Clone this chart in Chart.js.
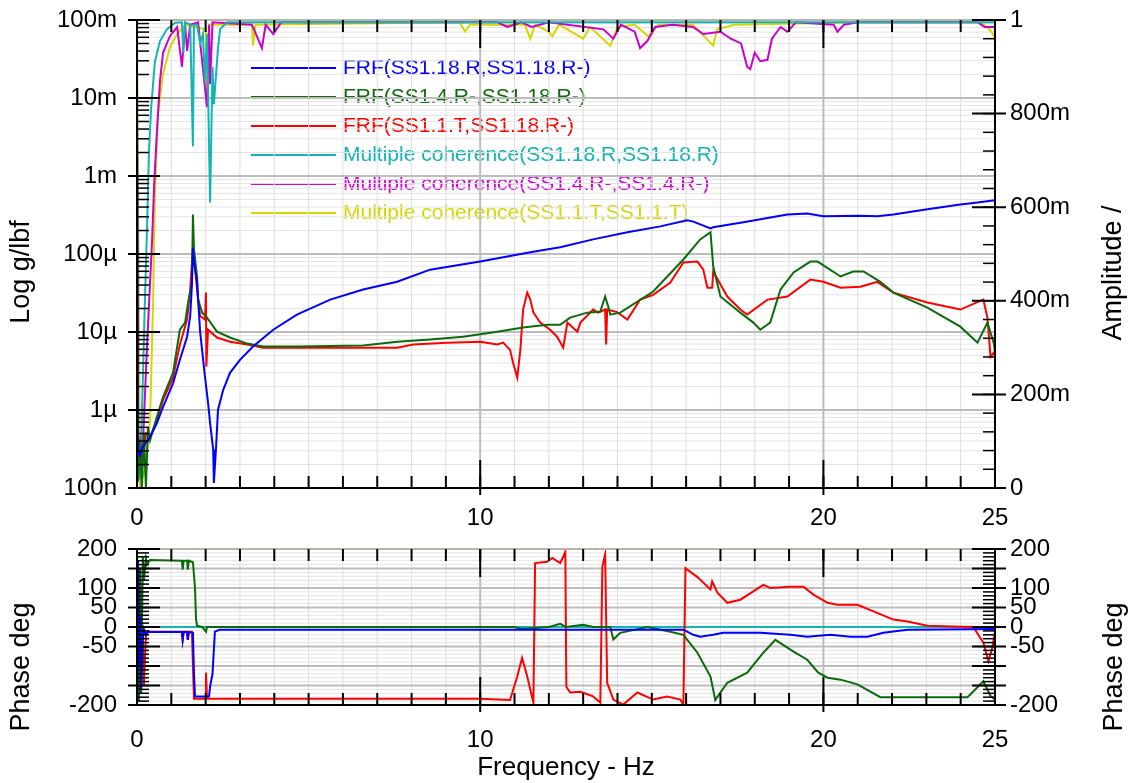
<!DOCTYPE html>
<html>
<head>
<meta charset="utf-8">
<title>FRF / coherence</title>
<script src="https://cdn.jsdelivr.net/npm/chart.js@4.4.1/dist/chart.umd.min.js"></script>
<style>
  html, body { margin: 0; padding: 0; background: #fff; }
  #wrap { position: relative; width: 1133px; height: 783px; }
  #wrap canvas { position: absolute; left: 0; top: 0; }
</style>
</head>
<body>
<div id="wrap">
  <canvas id="magChart" width="1133" height="783"></canvas>
  <canvas id="phaseChart" width="1133" height="783"></canvas>
</div>
<script>
// ---- axes / labels ----
const freqTicks = [0, 10, 20, 25];
const magTicks = [1e-7, 1e-6, 1e-5, 1e-4, 1e-3, 1e-2, 1e-1];
const magTickLabels = ['100n', '1µ', '10µ', '100µ', '1m', '10m', '100m'];
const cohTicks = [0, 0.2, 0.4, 0.6, 0.8, 1];
const cohTickLabels = ['0', '200m', '400m', '600m', '800m', '1'];
const phaseTicks = [-200, -50, 0, 50, 100, 200];

const seriesNames = [
  'FRF(SS1.18.R,SS1.18.R-)',
  'FRF(SS1.4.R-,SS1.18.R-)',
  'FRF(SS1.1.T,SS1.18.R-)',
  'Multiple coherence(SS1.18.R,SS1.18.R)',
  'Multiple coherence(SS1.4.R-,SS1.4.R-)',
  'Multiple coherence(SS1.1.T,SS1.1.T)'
];
const seriesColors = ['#0000ff', '#0b6b0b', '#ff0000', '#12b4b4', '#cc00cc', '#d6d600'];

// ---- FRF magnitude, [Hz, g/lbf] ----
const frfBlueMag = [
  [0, 5.0e-3], [0.03, 3.1e-7], [0.09, 2.6e-7], [0.17, 3.4e-7], [0.38, 4.5e-7], [0.58, 6.8e-7],
  [0.76, 1.1e-6], [1.05, 2.2e-6], [1.25, 4.4e-6], [1.46, 8.7e-6], [1.55, 1.6e-5], [1.60, 4.0e-5],
  [1.63, 1.2e-4], [1.66, 8.0e-5], [1.75, 4.3e-5], [1.84, 1.0e-5], [1.98, 2.7e-6], [2.07, 1.24e-6],
  [2.13, 6.8e-7], [2.22, 3.1e-7], [2.24, 1.16e-7], [2.30, 3.1e-7], [2.36, 1.0e-6], [2.51, 1.8e-6],
  [2.71, 3.0e-6], [3.00, 4.4e-6], [3.38, 6.5e-6], [3.97, 1.07e-5], [4.66, 1.67e-5], [5.63, 2.6e-5],
  [6.59, 3.5e-5], [7.58, 4.4e-5], [8.54, 6.3e-5], [10.0, 8.0e-5], [11.46, 1.05e-4], [12.33, 1.22e-4],
  [13.29, 1.54e-4], [14.29, 1.9e-4], [15.25, 2.26e-4], [16.03, 2.7e-4], [16.21, 2.6e-4], [16.71, 2.13e-4],
  [16.79, 2.2e-4], [17.67, 2.55e-4], [18.95, 3.2e-4], [19.53, 3.3e-4], [20.0, 3.04e-4], [21.08, 3.1e-4],
  [21.57, 3.04e-4], [22.04, 3.2e-4], [23.03, 3.74e-4], [23.99, 4.3e-4], [24.37, 4.5e-4], [25.0, 4.9e-4]
];
const frfGreenMag = [
  [0, 3e-7], [0.03, 1.2e-7], [0.09, 4e-7], [0.14, 1.0e-7], [0.20, 5e-7], [0.26, 1.0e-7], [0.32, 6e-7],
  [0.38, 4.1e-7], [0.58, 8.2e-7], [0.76, 1.48e-6], [1.05, 3.0e-6], [1.25, 1.07e-5], [1.40, 1.32e-5],
  [1.49, 2.4e-5], [1.60, 4.3e-5], [1.63, 3.2e-4], [1.66, 1.15e-4], [1.75, 5.15e-5], [1.78, 2.6e-5],
  [1.90, 1.77e-5], [2.04, 1.53e-5], [2.33, 1.01e-5], [2.71, 8.5e-6], [3.21, 7.1e-6], [3.67, 6.5e-6],
  [4.66, 6.5e-6], [6.59, 6.7e-6], [7.58, 7.5e-6], [8.54, 8.0e-6], [9.50, 8.7e-6], [10.50, 1.01e-5],
  [11.25, 1.14e-5], [11.95, 1.24e-5], [12.33, 1.24e-5], [12.62, 1.53e-5], [13.12, 1.77e-5], [13.50, 1.83e-5],
  [13.64, 2.85e-5], [13.73, 2.12e-5], [13.79, 1.67e-5], [14.08, 1.77e-5], [15.04, 3.3e-5], [15.92, 8.5e-5],
  [16.41, 1.54e-4], [16.71, 1.9e-4], [16.79, 6.9e-5], [17.00, 2.85e-5], [17.58, 1.77e-5], [17.96, 1.32e-5],
  [18.16, 1.07e-5], [18.45, 1.32e-5], [18.75, 3.5e-5], [19.13, 5.8e-5], [19.62, 8.0e-5], [19.83, 8.0e-5],
  [20.50, 5.15e-5], [20.87, 5.97e-5], [21.17, 5.97e-5], [21.66, 4.4e-5], [22.04, 3.2e-5], [23.03, 2.06e-5],
  [23.99, 1.17e-5], [24.49, 7.3e-6], [24.78, 1.32e-5], [24.96, 7.3e-6], [25.0, 5.6e-6]
];
const frfRedMag = [
  [0, 5.5e-3], [0.03, 2.5e-7], [0.09, 4e-7], [0.17, 2.2e-7], [0.26, 5e-7], [0.38, 4.5e-7], [0.58, 7.5e-7],
  [0.76, 1.35e-6], [1.05, 2.6e-6], [1.25, 6.9e-6], [1.46, 1.44e-5], [1.55, 3.5e-5], [1.63, 1.2e-4],
  [1.66, 9.9e-5], [1.75, 3.5e-5], [1.84, 1.6e-5], [1.98, 1.44e-5], [2.01, 3.2e-5], [2.02, 3.6e-6],
  [2.07, 1.07e-5], [2.33, 8.5e-6], [2.71, 7.5e-6], [3.21, 6.9e-6], [3.67, 6.3e-6], [4.66, 6.3e-6],
  [6.59, 6.3e-6], [7.58, 6.3e-6], [8.05, 6.9e-6], [9.04, 7.3e-6], [10.0, 7.5e-6], [10.50, 6.9e-6],
  [10.67, 7.3e-6], [10.87, 5.9e-6], [10.96, 4.0e-6], [11.08, 2.6e-6], [11.17, 5.9e-6], [11.25, 1.94e-5],
  [11.37, 3.2e-5], [11.46, 2.6e-5], [11.55, 1.77e-5], [11.75, 1.32e-5], [12.04, 1.07e-5], [12.24, 8.7e-6],
  [12.42, 6.3e-6], [12.54, 1.32e-5], [12.83, 1.01e-5], [12.92, 1.32e-5], [13.29, 1.94e-5], [13.44, 1.77e-5],
  [13.64, 1.94e-5], [13.67, 6.9e-6], [13.70, 1.94e-5], [13.99, 1.8e-5], [14.29, 1.44e-5], [14.66, 2.6e-5],
  [15.04, 3.0e-5], [15.54, 4.3e-5], [15.92, 7.8e-5], [16.33, 8.0e-5], [16.50, 6.3e-5], [16.62, 3.7e-5],
  [16.76, 3.7e-5], [16.79, 5.97e-5], [17.20, 2.85e-5], [17.58, 1.94e-5], [17.78, 1.67e-5], [18.37, 2.6e-5],
  [18.95, 2.85e-5], [19.62, 4.7e-5], [20.0, 4.4e-5], [20.50, 3.7e-5], [21.08, 3.8e-5], [21.57, 4.4e-5],
  [22.04, 3.2e-5], [23.03, 2.39e-5], [23.99, 1.94e-5], [24.66, 2.6e-5], [24.78, 1.53e-5], [24.87, 4.8e-6],
  [24.96, 5.4e-6], [25.0, 5.0e-6]
];

// ---- multiple coherence, [Hz, 0..1] ----
const cohCyan = [
  [0, 0.93], [0.03, 0.05], [0.09, 0.02], [0.17, 0.23], [0.23, 0.40], [0.29, 0.55], [0.35, 0.72],
  [0.41, 0.81], [0.52, 0.91], [0.67, 0.955], [0.87, 0.98], [1.11, 0.994], [1.31, 0.995], [1.35, 0.93],
  [1.40, 0.995], [1.55, 0.99], [1.63, 0.73], [1.66, 0.99], [1.75, 0.99], [1.84, 0.95], [1.92, 0.97],
  [1.98, 0.87], [2.04, 0.97], [2.13, 0.61], [2.20, 0.9], [2.24, 0.82], [2.36, 0.94], [2.42, 0.98],
  [2.62, 0.995], [25, 0.995]
];
const cohMagenta = [
  [0, 0.1], [0.09, 0.03], [0.17, 0.09], [0.29, 0.30], [0.44, 0.53], [0.50, 0.65], [0.58, 0.76],
  [0.67, 0.87], [0.76, 0.93], [0.96, 0.966], [1.17, 0.985], [1.31, 0.90], [1.40, 0.99], [1.46, 0.934],
  [1.55, 0.99], [1.78, 0.995], [2.04, 0.814], [2.10, 0.99], [2.13, 0.863], [2.20, 0.995], [3.35, 0.99],
  [3.64, 0.94], [3.75, 0.99], [3.97, 0.97], [4.2, 0.995], [10.5, 0.995], [10.79, 0.985], [11.2, 0.995],
  [11.5, 0.985], [12.0, 0.995], [13.59, 0.98], [13.88, 0.96], [14.1, 0.99], [14.5, 0.975], [14.66, 0.94],
  [14.87, 0.955], [15.1, 0.985], [15.6, 0.99], [16.2, 0.985], [16.5, 0.97], [17.0, 0.975], [17.3, 0.96],
  [17.6, 0.95], [17.78, 0.90], [17.87, 0.895], [18.0, 0.93], [18.16, 0.912], [18.37, 0.915], [18.5, 0.96],
  [18.75, 0.985], [18.95, 0.975], [19.2, 0.995], [20.3, 0.99], [20.41, 0.975], [20.6, 0.99], [21.0, 0.995],
  [24.5, 0.995], [24.7, 0.985], [25, 0.985]
];
const cohYellow = [
  [0, 0.94], [0.03, 0.6], [0.09, 0.0], [0.23, 0.04], [0.38, 0.146], [0.47, 0.40], [0.52, 0.62],
  [0.61, 0.80], [0.76, 0.884], [0.96, 0.942], [1.17, 0.97], [1.40, 0.99], [2.0, 0.98], [2.04, 0.82],
  [2.10, 0.99], [3.35, 0.99], [3.38, 0.945], [3.45, 0.99], [9.4, 0.995], [9.56, 0.975], [9.7, 0.99],
  [11.3, 0.99], [11.46, 0.96], [11.6, 0.99], [12.0, 0.975], [12.1, 0.965], [12.3, 0.99], [13.0, 0.96],
  [13.2, 0.985], [13.79, 0.945], [14.0, 0.985], [14.5, 0.99], [14.9, 0.965], [15.2, 0.99], [16.2, 0.99],
  [16.79, 0.945], [16.9, 0.98], [17.4, 0.99], [21.2, 0.995], [24.6, 0.995], [24.9, 0.975], [25, 0.96]
];

// ---- FRF phase, [Hz, deg] ----
const phaseBlue = [
  [0, -190], [0.03, 170], [0.06, -100], [0.09, 30], [0.12, -160], [0.17, -30], [0.20, -5], [0.26, -20],
  [0.32, -13], [1.31, -13], [1.33, -33], [1.36, -13], [1.46, -13], [1.48, -33], [1.51, -13], [1.63, -15],
  [1.66, -120], [1.69, -178], [2.10, -178], [2.13, -153], [2.20, -120], [2.27, -12], [2.40, -7],
  [15.92, -7], [16.21, -20], [16.41, -25], [16.79, -20], [17.08, -15], [18.16, -15], [19.04, -20],
  [19.53, -25], [20.20, -20], [20.79, -25], [21.28, -25], [21.75, -15], [22.45, -7], [25, -5]
];
const phaseGreen = [
  [0, -180], [0.03, 170], [0.06, -190], [0.09, 150], [0.12, -170], [0.17, 180], [0.20, 120], [0.26, 175],
  [0.29, 160], [0.38, 172], [1.31, 170], [1.33, 147], [1.36, 170], [1.46, 170], [1.48, 147], [1.51, 170],
  [1.63, 166], [1.69, 100], [1.72, 20], [1.75, 3], [1.90, 0], [2.01, -12], [2.04, 0], [11.0, 0],
  [11.2, -5], [12.0, 0], [12.33, 8], [12.5, 0], [13.0, 6], [13.3, 0], [13.79, 0], [13.88, -32],
  [14.08, -15], [14.87, 0], [15.54, -12], [15.92, -20], [16.33, -66], [16.71, -127], [16.85, -187],
  [17.20, -143], [17.78, -117], [18.25, -66], [18.6, -33], [19.13, -63], [19.53, -84], [19.85, -117],
  [20.12, -130], [20.50, -135], [20.99, -147], [21.66, -180], [24.20, -180], [24.66, -139], [24.87, -177],
  [25.0, -186]
];
const phaseRed = [
  [0, 180], [0.03, -190], [0.06, 150], [0.09, -170], [0.12, 100], [0.17, -60], [0.20, -150], [0.26, -20],
  [0.32, -10], [0.38, -12], [1.31, -12], [1.33, -33], [1.36, -12], [1.46, -12], [1.48, -33], [1.51, -12],
  [1.60, -12], [1.66, -184], [2.00, -184], [2.01, -117], [2.04, -184], [10.0, -184], [10.87, -187],
  [11.08, -127], [11.22, -79], [11.37, -127], [11.55, -194], [11.60, 164], [11.95, 167], [12.10, 177],
  [12.33, 164], [12.42, 180], [12.48, 193], [12.51, -153], [12.62, -168], [12.92, -166], [13.29, -178],
  [13.50, -194], [13.56, 155], [13.64, 186], [13.70, -143], [13.88, -186], [14.17, -199], [14.58, -168],
  [15.04, -186], [15.45, -178], [15.83, -186], [15.92, -199], [15.98, 151], [16.33, 128], [16.71, 96],
  [16.76, 117], [16.91, 88], [17.20, 62], [17.58, 70], [18.25, 108], [18.45, 100], [19.04, 103],
  [19.42, 103], [19.71, 83], [20.12, 62], [20.41, 57], [20.99, 57], [21.46, 40], [22.04, 19], [22.45, 14],
  [23.03, 3], [23.79, 1], [24.37, 0], [24.66, -40], [24.81, -88], [24.93, -50], [25.0, -12]
];
const phaseCyan = [[0, 0], [25, 0]];

// ---- helpers ----
const FONT = '"Liberation Sans", Arial, sans-serif';
const toXY = pts => pts.map(p => ({ x: p[0], y: p[1] }));

function steps(from, to, step) {
  const out = [];
  const n = Math.round((to - from) / step);
  for (let i = 0; i <= n; i++) out.push(+(from + i * step).toFixed(6));
  return out;
}

function seg(ctx, x1, y1, x2, y2, color, w) {
  ctx.beginPath();
  ctx.strokeStyle = color;
  ctx.lineWidth = w;
  ctx.moveTo(x1, y1);
  ctx.lineTo(x2, y2);
  ctx.stroke();
}

function vTitle(ctx, text, x, y) {
  ctx.save();
  ctx.translate(x, y);
  ctx.rotate(-Math.PI / 2);
  ctx.font = '27px ' + FONT;
  ctx.fillStyle = '#000';
  ctx.textAlign = 'center';
  ctx.textBaseline = 'middle';
  ctx.fillText(text, 0, 0);
  ctx.restore();
}

function drawLegend(chart) {
  const ctx = chart.ctx;
  ctx.font = '21px ' + FONT;
  ctx.textBaseline = 'middle';
  ctx.textAlign = 'left';
  chart.data.datasets.forEach((ds, i) => {
    const y = 68 + i * 29;
    seg(ctx, 251, y, 336, y, ds.borderColor, 2);
    ctx.fillStyle = ds.borderColor;
    ctx.fillText(ds.label, 343, y);
  });
}

const hzMinor = steps(0, 25, 1);
const hzMajor = [10, 20];

// grid, ticks, borders and titles drawn from the chart's own scales
function makeFrame(spec) {
  return {
    id: 'frame_' + spec.name,
    beforeDatasetsDraw(chart) {
      const { ctx, chartArea: a, scales } = chart;
      const sx = scales.x, sy = scales[spec.gridAxis];
      ctx.save();
      if (spec.legend) drawLegend(chart);
      spec.hMinor.forEach(v => { const y = sy.getPixelForValue(v); seg(ctx, a.left, y, a.right, y, '#e4e4e4', 1); });
      hzMinor.forEach(v => { const x = sx.getPixelForValue(v); seg(ctx, x, a.top, x, a.bottom, '#dedede', 1); });
      spec.hMajor.forEach(v => { const y = sy.getPixelForValue(v); seg(ctx, a.left, y, a.right, y, '#bdbdbd', 2); });
      hzMajor.forEach(v => { const x = sx.getPixelForValue(v); seg(ctx, x, a.top, x, a.bottom, '#bdbdbd', 2); });
      ctx.restore();
    },
    afterDatasetsDraw(chart) {
      const { ctx, chartArea: a, scales } = chart;
      const sx = scales.x, sl = scales[spec.leftAxis], sr = scales[spec.rightAxis];
      ctx.save();
      // borders
      seg(ctx, a.left, a.top, a.right, a.top, '#b9b5aa', 2);
      seg(ctx, a.left, a.top, a.left, a.bottom, '#000', 2);
      seg(ctx, a.right, a.top, a.right, a.bottom, '#000', 2);
      seg(ctx, a.left, a.bottom, a.right, a.bottom, '#000', 2);
      // y ticks
      spec.leftMinor.forEach(v => { const y = sl.getPixelForValue(v); seg(ctx, a.left, y, a.left + 12, y, '#000', 1.5); });
      spec.leftMajor.forEach(v => { const y = sl.getPixelForValue(v); seg(ctx, a.left - 9, y, a.left + 23, y, '#000', 2); });
      spec.rightMinor.forEach(v => { const y = sr.getPixelForValue(v); seg(ctx, a.right - 12, y, a.right, y, '#000', 1.5); });
      spec.rightMajor.forEach(v => { const y = sr.getPixelForValue(v); seg(ctx, a.right - 23, y, a.right + 11, y, '#000', 2); });
      // x ticks, bottom and top edges
      hzMinor.forEach(v => {
        const x = sx.getPixelForValue(v);
        seg(ctx, x, a.bottom, x, a.bottom - 12, '#000', 2);
        seg(ctx, x, a.top, x, a.top + 12, '#000', 2);
      });
      hzMajor.forEach(v => {
        const x = sx.getPixelForValue(v);
        seg(ctx, x, a.bottom + 7, x, a.bottom - 28, '#000', 2);
        seg(ctx, x, a.top, x, a.top + 28, '#000', 2);
      });
      spec.titles.forEach(t => vTitle(ctx, t[0], t[1], t[2]));
      ctx.restore();
    }
  };
}

const tickFont = { family: FONT, size: 24 };

function fixedY(width) {
  return s => { s.width = width; s.paddingTop = 0; s.paddingBottom = 0; };
}
function fixedX(height) {
  return s => { s.height = height; s.paddingLeft = 0; s.paddingRight = 0; };
}

function lineSet(label, color, pts, axis) {
  return {
    label: label, data: toXY(pts), yAxisID: axis,
    borderColor: color, backgroundColor: color, borderWidth: 2,
    pointRadius: 0, tension: 0, fill: false
  };
}

const xScale = (labelPad, height, title) => ({
  type: 'linear', min: 0, max: 25,
  afterBuildTicks: s => { s.ticks = freqTicks.map(v => ({ value: v })); },
  afterFit: fixedX(height),
  grid: { display: false, drawTicks: false },
  border: { display: false },
  ticks: { font: tickFont, color: '#000', padding: labelPad, autoSkip: false, maxRotation: 0, callback: v => String(v) },
  title: title ? { display: true, text: title, color: '#000', font: { family: FONT, size: 26 }, padding: { top: 0, bottom: 0 } } : { display: false }
});

// ---- magnitude / coherence chart ----
const logMinor = [];
magTicks.slice(0, -1).forEach(d => { for (let m = 2; m <= 9; m++) logMinor.push(m * d); });

new Chart(document.getElementById('magChart'), {
  type: 'line',
  data: {
    datasets: [
      lineSet(seriesNames[0], seriesColors[0], frfBlueMag, 'yLog'),
      lineSet(seriesNames[1], seriesColors[1], frfGreenMag, 'yLog'),
      lineSet(seriesNames[2], seriesColors[2], frfRedMag, 'yLog'),
      lineSet(seriesNames[3], seriesColors[3], cohCyan, 'yLin'),
      lineSet(seriesNames[4], seriesColors[4], cohMagenta, 'yLin'),
      lineSet(seriesNames[5], seriesColors[5], cohYellow, 'yLin')
    ]
  },
  options: {
    responsive: false, animation: false, devicePixelRatio: 1,
    layout: { padding: { top: 20, bottom: 255, left: 0, right: 0 } },
    plugins: { legend: { display: false }, tooltip: { enabled: false } },
    scales: {
      x: xScale(16, 40, null),
      yLog: {
        type: 'logarithmic', position: 'left', min: 1e-7, max: 1e-1,
        afterBuildTicks: s => { s.ticks = magTicks.map(v => ({ value: v })); },
        afterFit: fixedY(137),
        grid: { display: false, drawTicks: false }, border: { display: false },
        ticks: { font: tickFont, color: '#000', padding: 20, autoSkip: false,
          callback: v => magTickLabels[Math.round(Math.log10(v)) + 7] }
      },
      yLin: {
        type: 'linear', position: 'right', min: 0, max: 1,
        afterBuildTicks: s => { s.ticks = cohTicks.map(v => ({ value: v })); },
        afterFit: fixedY(138),
        grid: { display: false, drawTicks: false }, border: { display: false },
        ticks: { font: tickFont, color: '#000', padding: 15, autoSkip: false,
          callback: v => cohTickLabels[Math.round(v * 5)] }
      }
    }
  },
  plugins: [makeFrame({
    name: 'mag', legend: true, gridAxis: 'yLog', leftAxis: 'yLog', rightAxis: 'yLin',
    hMajor: magTicks, hMinor: logMinor,
    leftMajor: magTicks, leftMinor: logMinor,
    rightMajor: cohTicks, rightMinor: steps(0, 1, 0.04),
    titles: [['Log g/lbf', 22, 272], ['Amplitude /', 1114, 273]]
  })]
});

// ---- phase chart ----
const phaseScale = (pos, width, pad) => ({
  type: 'linear', position: pos, min: -200, max: 200,
  afterBuildTicks: s => { s.ticks = phaseTicks.map(v => ({ value: v })); },
  afterFit: fixedY(width),
  grid: { display: false, drawTicks: false }, border: { display: false },
  ticks: { font: tickFont, color: '#000', padding: pad, autoSkip: false, callback: v => String(v) }
});

new Chart(document.getElementById('phaseChart'), {
  type: 'line',
  data: {
    datasets: [
      lineSet(seriesNames[0], seriesColors[0], phaseBlue, 'yPh'),
      lineSet(seriesNames[1], seriesColors[1], phaseGreen, 'yPh'),
      lineSet(seriesNames[2], seriesColors[2], phaseRed, 'yPh'),
      lineSet(seriesNames[3], seriesColors[3], phaseCyan, 'yPh')
    ]
  },
  options: {
    responsive: false, animation: false, devicePixelRatio: 1,
    layout: { padding: { top: 549, bottom: 0, left: 0, right: 0 } },
    plugins: { legend: { display: false }, tooltip: { enabled: false } },
    scales: {
      x: xScale(21, 78, 'Frequency - Hz'),
      yPh: phaseScale('left', 137, 20),
      yPh2: phaseScale('right', 138, 15)
    }
  },
  plugins: [makeFrame({
    name: 'phase', legend: false, gridAxis: 'yPh', leftAxis: 'yPh', rightAxis: 'yPh2',
    hMajor: steps(-150, 150, 50), hMinor: steps(-190, 190, 10),
    leftMajor: steps(-200, 200, 50), leftMinor: steps(-200, 200, 10),
    rightMajor: steps(-200, 200, 50), rightMinor: steps(-200, 200, 10),
    titles: [['Phase deg', 22, 667], ['Phase deg', 1115, 667]]
  })]
});
</script>
</body>
</html>
